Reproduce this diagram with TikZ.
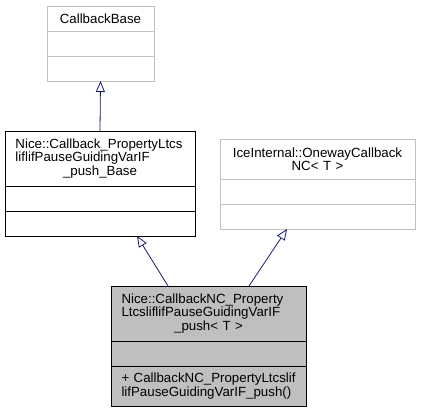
\documentclass[tikz,border=0pt]{standalone}
\usepackage{fontspec}
\setmainfont{Liberation Sans}
\usetikzlibrary{positioning,arrows.meta}
\definecolor{edgeblue}{HTML}{191970}
\definecolor{boxgray}{HTML}{BFBFBF}
\begin{document}
\begin{tikzpicture}[x=1pt, y=-1pt, >={Triangle[open,length=11pt,width=9pt]}]
      \tikzset{
  classpart/.style={
    rectangle,
    draw,
    outer sep=0pt,
    inner ysep=4pt,
    line width=0.9pt,
    font=\fontsize{13.3}{13.5}\selectfont
  },
  ghost class/.style={classpart, draw=boxgray},
  plain class/.style={classpart, draw=black},
  this class/.style={classpart, draw=black, fill=boxgray},
  inherit line/.style={
    ->,
    draw=edgeblue,
    line width=0.8pt
  }
}

\useasboundingbox (0,0) rectangle (421,412);

% class titles
\node [ghost class, minimum width=107pt, minimum height=25pt, anchor=north west, align=center] (cbase-title) at (47,6) {CallbackBase};

\node [plain class, text width=169pt, inner xsep=10.5pt, minimum height=55pt, anchor=north west, align=left] (base-title) at (5,131)
  {\mbox{Nice::Callback\_PropertyLtcs}\\\mbox{liflifPauseGuidingVarIF}\\\centerline{\_push\_Base}};

\node [ghost class, text width=183pt, inner xsep=6pt, minimum height=40pt, anchor=north west, align=center] (ice-title) at (220,139)
  {IceInternal::OnewayCallback\\NC<~T~>};

\node [this class, text width=174pt, inner xsep=10.5pt, minimum height=55pt, anchor=north west, align=left] (cbnc-title) at (111,286)
  {\mbox{Nice::CallbackNC\_Property}\\\mbox{LtcsliflifPauseGuidingVarIF}\\\centerline{\_push<~T~>}};

% empty attribute and method parts
\foreach \c/\s/\w/\h in {cbase/ghost/107/25,base/plain/190/25,ice/ghost/195/25}
{
  \node [\s\space class, minimum width=\w pt, minimum height=\h pt, below=0pt of \c-title] (\c-attr) {};
  \node [\s\space class, minimum width=\w pt, minimum height=\h pt, below=0pt of \c-attr] (\c-meth) {};
}

\node [this class, minimum width=195pt, minimum height=25pt, below=0pt of cbnc-title] (cbnc-attr) {};
\node [this class, text width=174pt, inner xsep=10.5pt, minimum height=40pt, align=left, below=0pt of cbnc-attr] (cbnc-meth)
  {\mbox{+ CallbackNC\_PropertyLtcslif}\\\mbox{lifPauseGuidingVarIF\_push()}};

% inheritance
\draw [inherit line] (base-title.north) -- (cbase-meth.south);
\draw [inherit line] ([xshift=-40.5pt]cbnc-title.north) -- ([xshift=37pt]base-meth.south);
\draw [inherit line] ([xshift=40.5pt]cbnc-title.north) -- ([xshift=-30.5pt]ice-meth.south);
    \end{tikzpicture}
\end{document}
